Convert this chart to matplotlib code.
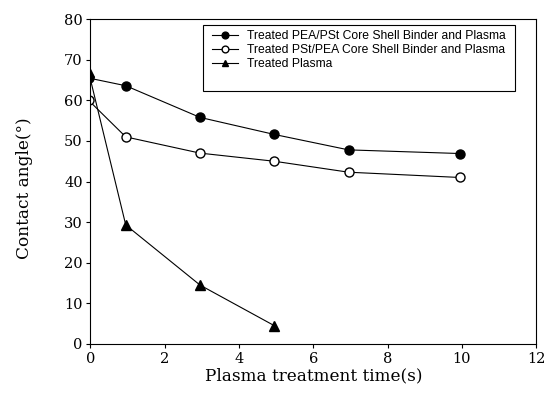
import numpy as np
import matplotlib.pyplot as plt
from matplotlib.patches import Rectangle

# Data
time_pea_pst = [-0.05, 0.95, 2.95, 4.95, 6.95, 9.95]
angle_pea_pst = [65.5, 63.6, 55.8, 51.6, 47.8, 46.9]

time_pst_pea = [-0.05, 0.95, 2.95, 4.95, 6.95, 9.95]
angle_pst_pea = [60.0, 51.0, 47.0, 45.0, 42.3, 41.0]

time_plasma = [-0.05, 0.95, 2.95, 4.95]
angle_plasma = [67.0, 29.3, 14.5, 4.5]

labels = ["Treated PEA/PSt Core Shell Binder and Plasma",
          "Treated PSt/PEA Core Shell Binder and Plasma",
          "Treated Plasma"]

fig = plt.figure(figsize=(5.55, 3.99), dpi=100)
ax = fig.add_axes([0.163, 0.138, 0.803, 0.814])

ax.plot(time_pea_pst, angle_pea_pst, color='black', lw=0.8, marker='o',
        ms=6.5, mfc='black', mec='black', label=labels[0])
ax.plot(time_pst_pea, angle_pst_pea, color='black', lw=0.8, marker='o',
        ms=6.5, mfc='white', mec='black', label=labels[1])
ax.plot(time_plasma, angle_plasma, color='black', lw=0.8, marker='^',
        ms=6.5, mfc='black', mec='black', label=labels[2])

ax.set_xlim(0, 12)
ax.set_ylim(0, 80)
ax.set_xticks(np.arange(0, 13, 2))
ax.set_yticks(np.arange(0, 81, 10))
ax.tick_params(direction='out', length=3, width=0.8, labelsize=10.5, pad=2.5)
for lab in ax.get_xticklabels() + ax.get_yticklabels():
    lab.set_fontfamily('DejaVu Serif')
for s in ax.spines.values():
    s.set_linewidth(0.8)

ax.set_xlabel("Plasma treatment time(s)", fontsize=12.2, family='DejaVu Serif')
ax.set_ylabel("Contact angle(°)", fontsize=12.2, family='DejaVu Serif')
ax.xaxis.set_label_coords(0.5, -0.072)
ax.yaxis.set_label_coords(-0.128, 0.48)

# legend box (taller than its entries, as in the original)
ax.add_patch(Rectangle((0.253, 0.778), 0.700, 0.203, transform=ax.transAxes,
                       fill=True, facecolor='white', edgecolor='black', lw=0.8, zorder=4))
leg = ax.legend(loc='upper left', bbox_to_anchor=(0.2735, 0.966), frameon=False,
                prop={'family': 'Liberation Sans', 'size': 8.7},
                handlelength=2.15, borderpad=0, borderaxespad=0, labelspacing=0.15,
                handletextpad=0.75, markerscale=0.75)
leg.set_zorder(5)

fig.savefig("out.png", dpi=100)
